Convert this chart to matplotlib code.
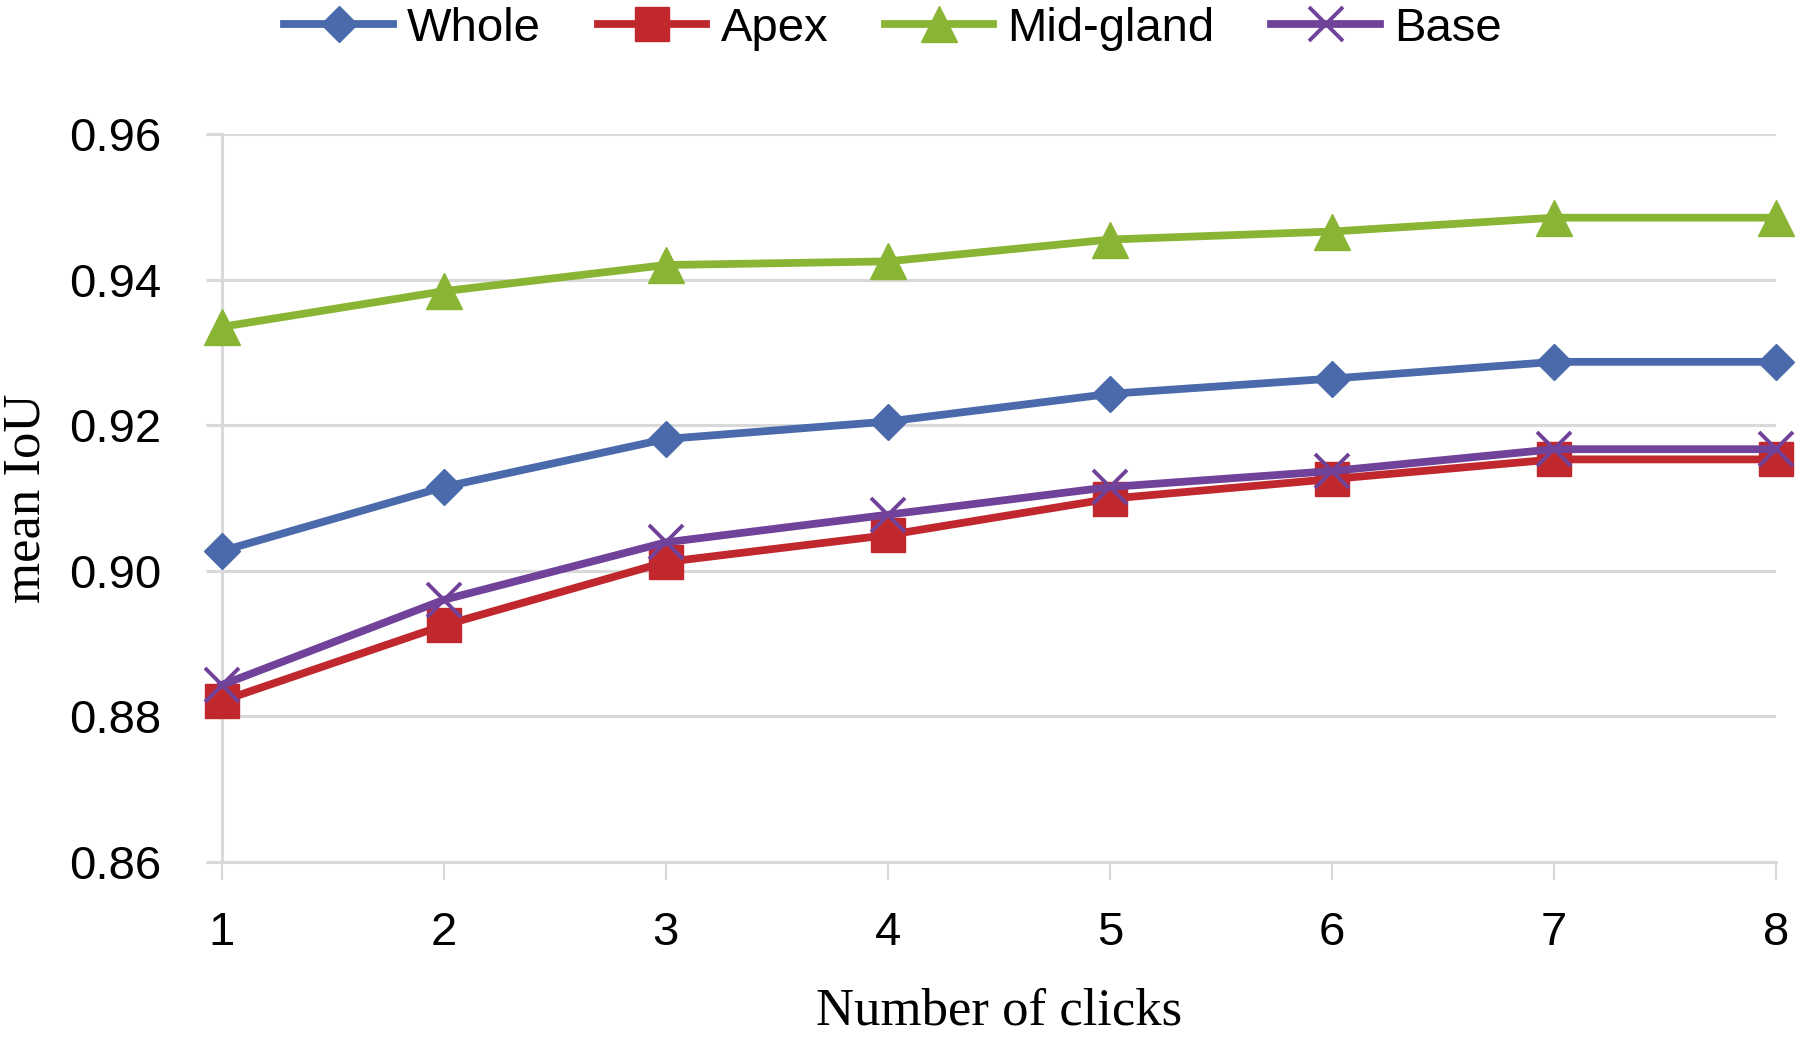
import matplotlib
matplotlib.use("Agg")
import matplotlib.pyplot as plt

# data
clicks = [1, 2, 3, 4, 5, 6, 7, 8]
whole = [0.9027, 0.9115, 0.9181, 0.9205, 0.9243, 0.9264, 0.9287, 0.9287]
apex = [0.8821, 0.8925, 0.9012, 0.9049, 0.9099, 0.9126, 0.9153, 0.9153]
mid_gland = [0.9335, 0.9384, 0.9420, 0.9425, 0.9455, 0.9466, 0.9485, 0.9485]
base = [0.8843, 0.8960, 0.9039, 0.9077, 0.9115, 0.9137, 0.9167, 0.9167]
y_ticks = [0.86, 0.88, 0.90, 0.92, 0.94, 0.96]

sans = "Liberation Sans"
serif = "Liberation Serif"
grid_col = "#D9D9D9"

fig = plt.figure(figsize=(18, 10.37), dpi=100)
ax = fig.add_axes([0.1231, 0.1688, 0.8636, 0.702])

lw = 5.6
ax.plot(clicks, whole, color="#4A6AAB", lw=lw, marker="D", ms=18.5,
        label="Whole", clip_on=False, zorder=3)
ax.plot(clicks, apex, color="#C0282D", lw=lw, marker="s", ms=25,
        label="Apex", clip_on=False, zorder=3)
ax.plot(clicks, mid_gland, color="#8AB534", lw=lw, marker="^", ms=26,
        label="Mid-gland", clip_on=False, zorder=3)
ax.plot(clicks, base, color="#71429A", lw=lw, marker="x", ms=25, mew=2.8,
        label="Base", clip_on=False, zorder=3)

ax.set_xlim(1, 8)
ax.set_ylim(0.86, 0.96)
ax.set_xticks(clicks)
ax.set_yticks(y_ticks)
ax.set_yticklabels([f"{v:.2f}" for v in y_ticks])

ax.grid(axis="y", color=grid_col, lw=2.2, zorder=0)
for s in ["top", "right"]:
    ax.spines[s].set_visible(False)
for s in ["left", "bottom"]:
    ax.spines[s].set_color(grid_col)
    ax.spines[s].set_linewidth(2.2)

ax.tick_params(axis="x", length=13, width=1.6, color=grid_col, pad=22,
               labelsize=34)
ax.tick_params(axis="y", length=11.5, width=2.2, color=grid_col, pad=32,
               labelsize=34)
for t in ax.get_xticklabels() + ax.get_yticklabels():
    t.set_fontfamily(sans)

ax.set_xlabel("Number of clicks", fontfamily=serif, fontsize=38, labelpad=24)
ax.set_ylabel("mean IoU", fontfamily=serif, fontsize=38)
ax.yaxis.set_label_coords(-0.11, 0.5)

fig.legend(loc="center", bbox_to_anchor=(893 / 1800, 1 - 29 / 1037), ncol=4,
           frameon=False, handlelength=2.3, handletextpad=0.3,
           columnspacing=1.2, prop={"family": sans, "size": 34})

fig.savefig("out.png", dpi=100)
